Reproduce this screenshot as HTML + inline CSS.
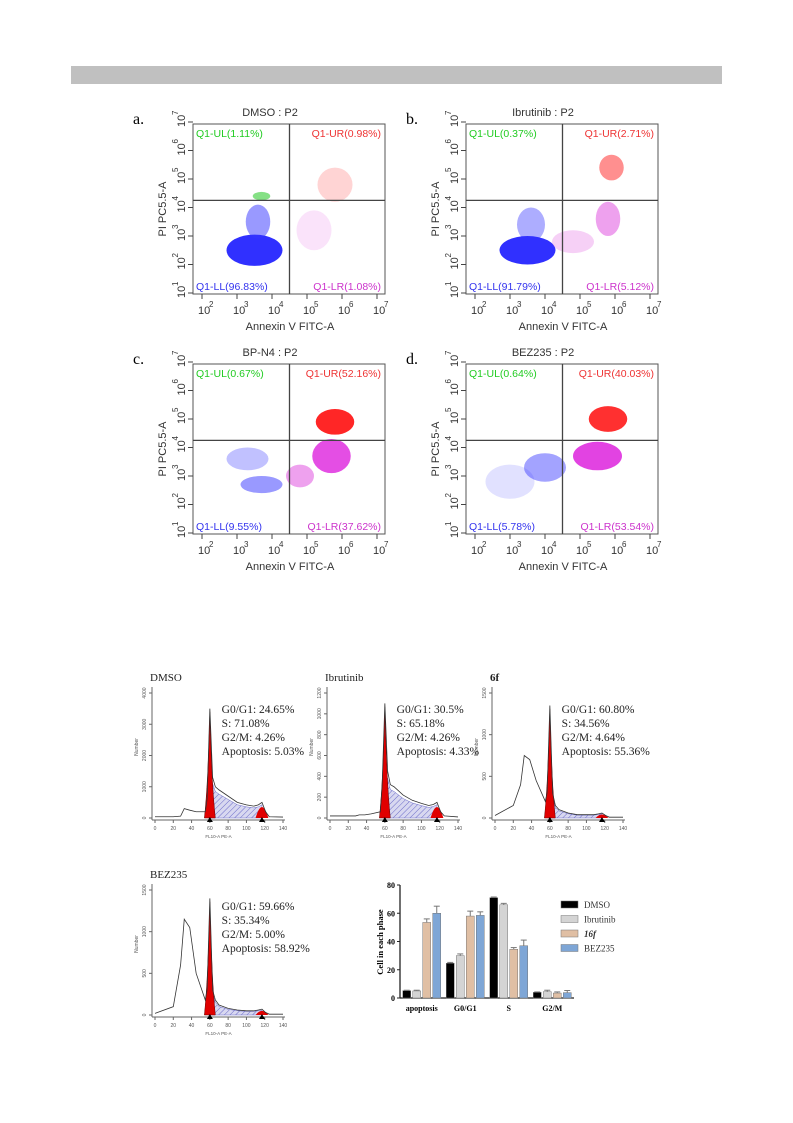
<!DOCTYPE html>
<html><head><meta charset="utf-8"><style>
body{margin:0;background:#fff;width:793px;height:1123px;overflow:hidden;font-family:"Liberation Sans",sans-serif}
svg{position:absolute;left:0;top:0}
</style></head><body>
<svg id="s" width="793" height="1123">
<rect x="71" y="66" width="651" height="18" fill="#c0c0c0"/>
<defs><pattern id="hatch" width="4" height="4" patternUnits="userSpaceOnUse" patternTransform="rotate(45)"><rect width="4" height="4" fill="#d8d8f0"/><line x1="0" y1="0" x2="0" y2="4" stroke="#6a6ac8" stroke-width="1"/></pattern></defs>
</svg>
<script>
const S=document.getElementById('s'),NS='http://www.w3.org/2000/svg';
function el(t,a,p){const e=document.createElementNS(NS,t);for(const k in a)e.setAttribute(k,a[k]);(p||S).appendChild(e);return e;}
function tx(x,y,s,a,p){const e=el('text',Object.assign({x:x,y:y},a),p);e.textContent=s;return e;}

// ---------- dot plots ----------
const dotTitles=['DMSO : P2','Ibrutinib : P2','BP-N4 : P2','BEZ235 : P2'];
const dotLetters=['a.','b.','c.','d.'];
const quadUL=['1.11','0.37','0.67','0.64'];
const quadUR=['0.98','2.71','52.16','40.03'];
const quadLL=['96.83','91.79','9.55','5.78'];
const quadLR=['1.08','5.12','37.62','53.54'];
const blobs=[
 [[3.5,2.5,0.8,0.55,'#1a1aff',0.9],[3.6,3.5,0.35,0.6,'#3333ff',0.5],[3.7,4.4,0.25,0.15,'#33cc33',0.6],[5.8,4.8,0.5,0.6,'#ff5555',0.25],[5.2,3.2,0.5,0.7,'#dd44dd',0.15]],
 [[3.5,2.5,0.8,0.5,'#1a1aff',0.9],[3.6,3.4,0.4,0.6,'#3333ff',0.4],[5.9,5.4,0.35,0.45,'#ff3333',0.55],[5.8,3.6,0.35,0.6,'#dd44dd',0.5],[4.8,2.8,0.6,0.4,'#dd44dd',0.25]],
 [[3.7,2.7,0.6,0.3,'#3333ff',0.5],[3.3,3.6,0.6,0.4,'#3333ff',0.3],[5.8,4.9,0.55,0.45,'#ff1a1a',0.95],[5.7,3.7,0.55,0.6,'#dd22dd',0.8],[4.8,3.0,0.4,0.4,'#dd44dd',0.5]],
 [[4.0,3.3,0.6,0.5,'#3333ff',0.45],[3.0,2.8,0.7,0.6,'#3333ff',0.15],[5.8,5.0,0.55,0.45,'#ff1a1a',0.9],[5.5,3.7,0.7,0.5,'#dd22dd',0.85]]
];
const decX=[2,3,4,5,6,7],decY=[1,2,3,4,5,6,7];
function dotPlot(i,ox,oy){
 const g=el('g',{});
 const L=193+ox,R=385+ox,T=124+oy,B=294+oy;
 const X=v=>202+ox+(v-2)*35, Y=v=>293+oy-(v-1)*28.5;
 tx(133+ox,124+oy,dotLetters[i],{'font-family':'Liberation Serif','font-size':16},g);
 tx(270+ox,116+oy,dotTitles[i],{'font-size':11,'text-anchor':'middle',fill:'#333'},g);
 const cp=el('clipPath',{id:'cp'+i},g);el('rect',{x:L,y:T,width:R-L,height:B-T},cp);
 const bg=el('g',{'clip-path':'url(#cp'+i+')'},g);
 blobs[i].forEach(b=>{const e=el('ellipse',{cx:X(b[0]),cy:Y(b[1]),rx:b[2]*35,ry:b[3]*28.5,fill:b[4],opacity:b[5]},bg);});
 el('rect',{x:L,y:T,width:R-L,height:B-T,fill:'none',stroke:'#555'},g);
 const qx=X(4.5),qy=Y(4.25);
 el('line',{x1:qx,y1:T,x2:qx,y2:B,stroke:'#444','stroke-width':1.3},g);
 el('line',{x1:L,y1:qy,x2:R,y2:qy,stroke:'#444','stroke-width':1.3},g);
 tx(L+3,T+13,'Q1-UL('+quadUL[i]+'%)',{'font-size':10.5,fill:'#22cc22'},g);
 tx(R-4,T+13,'Q1-UR('+quadUR[i]+'%)',{'font-size':10.5,fill:'#ee3333','text-anchor':'end'},g);
 tx(L+3,B-4,'Q1-LL('+quadLL[i]+'%)',{'font-size':10.5,fill:'#3333ee'},g);
 tx(R-4,B-4,'Q1-LR('+quadLR[i]+'%)',{'font-size':10.5,fill:'#cc33cc','text-anchor':'end'},g);
 decX.forEach(d=>{tx(X(d)-4,B+20,'10',{'font-size':11,fill:'#333'},g);tx(X(d)+7,B+13,String(d),{'font-size':8,fill:'#333'},g);el('line',{x1:X(d),y1:B,x2:X(d),y2:B+5,stroke:'#444'},g);});
 decY.forEach(d=>{const gg=el('g',{transform:'translate('+(L-8)+','+Y(d)+') rotate(-90)'},g);tx(-5,0,'10',{'font-size':11,fill:'#333'},gg);tx(7,-7,String(d),{'font-size':8,fill:'#333'},gg);el('line',{x1:L-5,y1:Y(d),x2:L,y2:Y(d),stroke:'#444'},g);});
 tx(290+ox,330+oy,'Annexin V FITC-A',{'font-size':11,'text-anchor':'middle',fill:'#333'},g);
 const ya=el('g',{transform:'translate('+(166+ox)+','+(209+oy)+') rotate(-90)'},g);
 tx(0,0,'PI PC5.5-A',{'font-size':11,'text-anchor':'middle',fill:'#333'},ya);
}
dotPlot(0,0,0);dotPlot(1,273,0);dotPlot(2,0,240);dotPlot(3,273,240);

// ---------- histograms ----------
const histNames=['DMSO','Ibrutinib','6f','BEZ235'];
const histG1=['24.65','30.5','60.80','59.66'];
const histS=['71.08','65.18','34.56','35.34'];
const histG2=['4.26','4.26','4.64','5.00'];
const histAp=['5.03','4.33','55.36','58.92'];
const histMax=[4000,1200,1500,1500];
const histX=[0,20,28,32,38,45,55,57,60,63,66,70,80,90,100,108,113,117,121,125,140];
const histY=[
 [40,40,60,300,250,200,200,600,3500,1300,1000,900,700,500,420,380,420,500,200,40,30],
 [20,20,20,30,30,40,60,300,1100,450,320,300,220,170,140,120,130,150,60,20,10],
 [30,150,400,750,700,450,200,300,1350,300,150,100,60,40,40,40,50,60,30,10,10],
 [20,100,600,1150,1050,500,180,300,1400,300,180,120,80,60,50,50,60,70,30,10,10]
];
function hist(i,ox,oy){
 const g=el('g',{});
 const L=152+ox,R=285+ox,B=820+oy,T=687+oy;
 const X=v=>L+3+(v/140)*(R-L-5), Y=v=>B-2-(v/histMax[i])*(B-T-8);
 tx(L-2,T-6,histNames[i],{'font-family':'Liberation Serif','font-size':11,fill:'#222','font-weight':i==2?'bold':'normal'},g);
 el('line',{x1:L,y1:T,x2:L,y2:B,stroke:'#666'},g);el('line',{x1:L,y1:B,x2:R,y2:B,stroke:'#666'},g);
 for(let v=0;v<=140;v+=20){el('line',{x1:X(v),y1:B,x2:X(v),y2:B+3,stroke:'#666'},g);tx(X(v),B+10,String(v),{'font-size':5,'text-anchor':'middle',fill:'#555'},g);}
 const yt=histMax[i]>2000?1000:(histMax[i]>1300?500:200);
 for(let v=0;v<=histMax[i];v+=yt){el('line',{x1:L-3,y1:Y(v),x2:L,y2:Y(v),stroke:'#666'},g);const gg=el('g',{transform:'translate('+(L-6)+','+Y(v)+') rotate(-90)'},g);tx(0,0,String(v),{'font-size':5,'text-anchor':'middle',fill:'#555'},gg);}
 tx((L+R)/2,B+18,'FL10-A PE-A',{'font-size':4.5,'text-anchor':'middle',fill:'#555'},g);
 const yl=el('g',{transform:'translate('+(L-14)+','+(T+60)+') rotate(-90)'},g);tx(0,0,'Number',{'font-size':5,'text-anchor':'middle',fill:'#555'},yl);
 const ys=histY[i];
 let sp='M'+X(58)+','+Y(0);histX.forEach((x,k)=>{if(x>=63&&x<=117)sp+=' L'+X(x)+','+Y(ys[k]*0.85);});sp+=' L'+X(117)+','+Y(0)+'Z';
 el('path',{d:sp,fill:'url(#hatch)',stroke:'#6a6ac8','stroke-width':0.5},g);
 const pk=ys[8];el('path',{d:'M'+X(54)+','+Y(0)+' Q'+X(58)+','+Y(pk*0.3)+' '+X(60)+','+Y(pk*0.97)+' Q'+X(62)+','+Y(pk*0.3)+' '+X(66)+','+Y(0)+'Z',fill:'#e00000',stroke:'#600','stroke-width':0.5},g);
 const p2=ys[17];el('path',{d:'M'+X(110)+','+Y(0)+' Q'+X(117)+','+Y(p2*1.4)+' '+X(124)+','+Y(0)+'Z',fill:'#e00000'},g);
 let d='';histX.forEach((x,k)=>{d+=(k?' L':'M')+X(x)+','+Y(ys[k]);});
 el('path',{d:d,fill:'none',stroke:'#333','stroke-width':0.8},g);
 el('path',{d:'M'+(X(60)-3)+','+(B+2)+' l3,-5 l3,5z M'+(X(117)-3)+','+(B+2)+' l3,-5 l3,5z',fill:'#000'},g);
 const f={'font-family':'Liberation Serif','font-size':11.5,fill:'#222'};
 const tx0=X(62)+10;
 tx(tx0,T+26,'G0/G1: '+histG1[i]+'%',f,g);tx(tx0,T+40,'S: '+histS[i]+'%',f,g);
 tx(tx0,T+54,'G2/M: '+histG2[i]+'%',f,g);tx(tx0,T+68,'Apoptosis: '+histAp[i]+'%',f,g);
}
hist(0,0,0);hist(1,175,0);hist(2,340,0);hist(3,0,197);

// ---------- bar chart ----------
const barCats=['apoptosis','G0/G1','S','G2/M'];
const barSeries=['DMSO','Ibrutinib','16f','BEZ235'];
const barColors=['#000000','#d4d4d4','#e0bfa4','#7ea6d6'];
const vDMSO=[5.2,24.6,71,4];
const vIbru=[5,30,66,4.5];
const v16f=[53.5,58,34.5,3.5];
const vBEZ=[60,58.5,37,3.8];
const errs=[[0.3,0.6,0.5,0.3],[0.5,1.2,1,1],[2.5,3.5,1.2,0.8],[5,2.5,4,1.5]];
const yTicks=[0,20,40,60,80];
(function(){
 const g=el('g',{});
 const L=400,B=998,T=885,W=174,Y=v=>B-(v/80)*(B-T);
 el('line',{x1:L,y1:T,x2:L,y2:B,stroke:'#222','stroke-width':1.3},g);
 el('line',{x1:L,y1:B,x2:L+W,y2:B,stroke:'#222','stroke-width':1.3},g);
 yTicks.forEach(v=>{el('line',{x1:L-3,y1:Y(v),x2:L,y2:Y(v),stroke:'#222'},g);tx(L-5,Y(v)+3,String(v),{'font-family':'Liberation Serif','font-size':8,'font-weight':'bold','text-anchor':'end'},g);});
 const yl=el('g',{transform:'translate(383,942) rotate(-90)'},g);tx(0,0,'Cell in each phase',{'font-family':'Liberation Serif','font-size':8.5,'font-weight':'bold','text-anchor':'middle'},yl);
 const vals=[vDMSO,vIbru,v16f,vBEZ],bw=8,gw=W/4;
 barCats.forEach((c,ci)=>{
  const cx=L+gw*(ci+0.5);
  tx(cx,1011,c,{'font-family':'Liberation Serif','font-size':8,'font-weight':'bold','text-anchor':'middle'},g);
  vals.forEach((sv,si)=>{
   const x=cx-2*(bw+2)+si*(bw+2)+1,v=sv[ci];
   const r=el('rect',{x:x,y:Y(v),width:bw,height:B-Y(v),fill:barColors[si],stroke:'#777','stroke-width':0.5},g);
   
   
   const ey=Y(v+errs[si][ci]);el('line',{x1:x+bw/2,y1:Y(v),x2:x+bw/2,y2:ey,stroke:'#777'},g);el('line',{x1:x+1,y1:ey,x2:x+bw-1,y2:ey,stroke:'#777'},g);
  });
 });
 barSeries.forEach((s,si)=>{
  const lg=el('g',{},g);
  el('rect',{x:561,y:901+si*14.5,width:17,height:7,fill:barColors[si],stroke:'#777','stroke-width':0.5},lg);
  tx(584,908+si*14.5,s,{'font-family':'Liberation Serif','font-size':9,fill:'#333','font-style':si==2?'italic':'normal','font-weight':si==2?'bold':'normal'},lg);
 });
})();
</script>
</body></html>
